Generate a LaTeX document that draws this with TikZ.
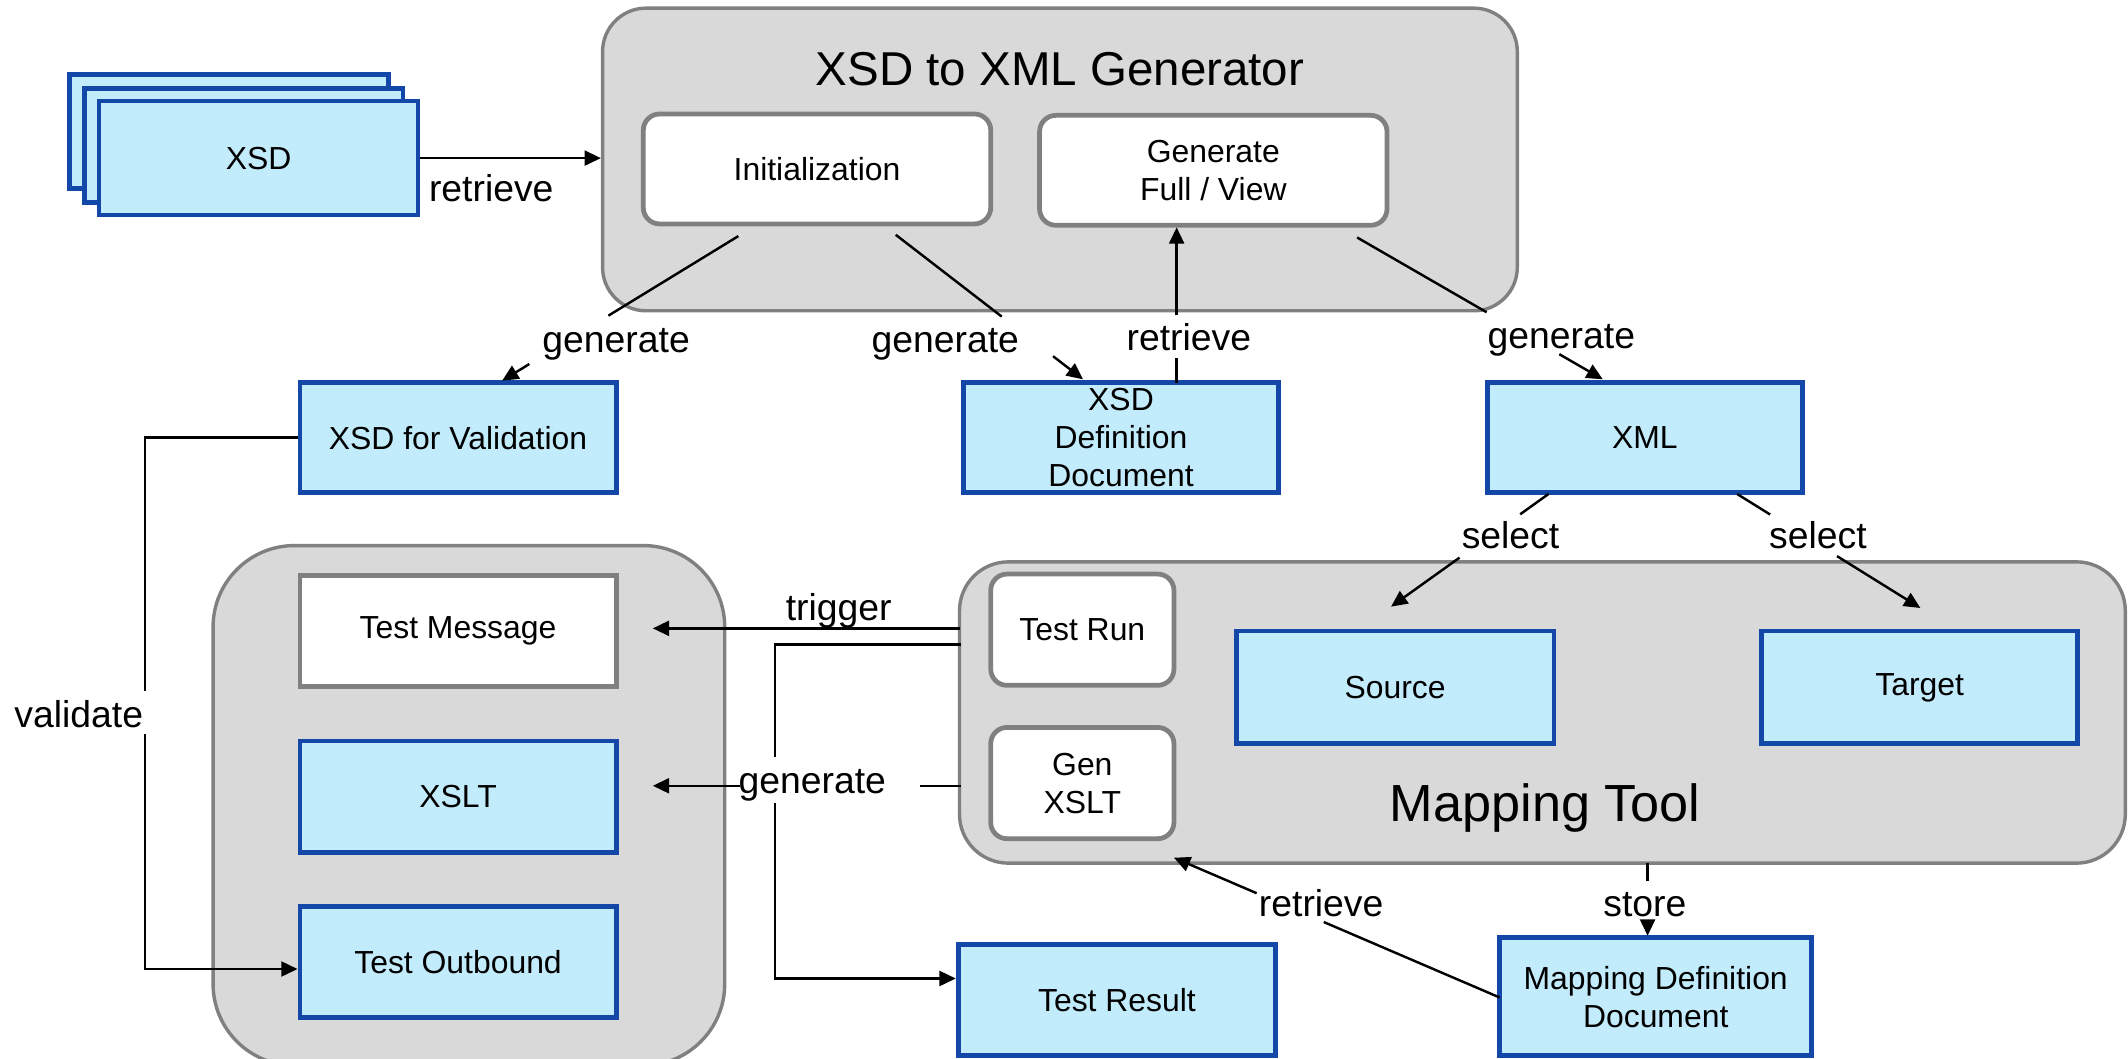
\documentclass[tikz,border=0pt]{standalone}
\usepackage{fontspec}
\setmainfont{Liberation Sans}
\usetikzlibrary{arrows.meta,calc}
\definecolor{bfill}{RGB}{194,235,251}
\definecolor{bline}{RGB}{20,72,168}
\definecolor{gfill}{RGB}{217,217,217}
\definecolor{gline}{RGB}{128,128,128}
\begin{document}
\begin{tikzpicture}[x=1pt,y=-1pt,
  font=\fontsize{23.5}{28}\selectfont,
  bluebox/.style={draw=bline,fill=bfill,line width=3.5pt,align=center,inner sep=0pt},
  msgbox/.style={draw=gline,fill=white,line width=3.5pt,align=center,inner sep=0pt},
  whitebox/.style={draw=gline,fill=white,line width=3.5pt,rounded corners=12pt,align=center,inner sep=0pt},
  container/.style={draw=gline,fill=gfill,line width=2.5pt,inner sep=0pt},
  conn/.style={line width=1.8pt,draw=black},
  arr/.style={conn,-{Triangle[length=12pt,width=11pt]}},
  lbl/.style={font=\fontsize{27.5}{32}\selectfont,inner sep=0pt,anchor=base},
  ttl/.style={inner sep=0pt,anchor=base},
]
\useasboundingbox (0,0) rectangle (1568,780.3);
\clip (0,0) rectangle (1568,780.3);

% XSD stack
\node[bluebox,minimum width=235,minimum height=84] (xsdc) at (168.5,97) {};
\node[bluebox,minimum width=235,minimum height=84] (xsdb) at (179.5,107) {};
\node[bluebox,minimum width=235,minimum height=84] (xsd) at (190.5,116.5) {XSD};

% XSD to XML generator
\node[container,rounded corners=32pt,minimum width=674,minimum height=223] (gen) at (781,117.5) {};
\node[ttl,font=\fontsize{35}{42}\selectfont] (gentitle) at (781,62.7) {XSD to XML Generator};
\node[whitebox,minimum width=256,minimum height=81] (init) at (602,124.5) {Initialization};
\node[whitebox,minimum width=256,minimum height=81] (genfv) at (894,125.5) {Generate\\Full / View};

% generated artefacts
\node[bluebox,minimum width=233,minimum height=81] (xsdval) at (337.5,322.5) {XSD for Validation};
\node[bluebox,minimum width=232,minimum height=81] (xsddef) at (826,322.5) {XSD\\Definition\\Document};
\node[bluebox,minimum width=232,minimum height=81] (xml) at (1212,322.5) {XML};

% test container
\node[container,rounded corners=60pt,minimum width=377,minimum height=383] (test) at (345.5,593.5) {};
\node[msgbox,minimum width=233,minimum height=82] (testmsg) at (337.5,465) {Test Message};
\node[bluebox,minimum width=233,minimum height=82] (xslt) at (337.5,587) {XSLT};
\node[bluebox,minimum width=233,minimum height=82] (testout) at (337.5,709) {Test Outbound};

% mapping tool
\node[container,rounded corners=36pt,minimum width=859,minimum height=222] (map) at (1136.5,525) {};
\node[whitebox,minimum width=135,minimum height=82] (testrun) at (797.5,464) {Test Run};
\node[whitebox,minimum width=135,minimum height=82] (genxslt) at (797.5,577) {Gen\\XSLT};
\node[bluebox,minimum width=234,minimum height=83] (source) at (1028,506.5) {Source};
\node[bluebox,minimum width=233,minimum height=83] (target) at (1414.5,506.5) {Target};
\node[ttl,font=\fontsize{38.5}{46}\selectfont] (maptitle) at (1138.5,605.6) {Mapping Tool};

\node[bluebox,minimum width=230,minimum height=87] (mapdef) at (1220,734.5) {Mapping Definition\\Document};
\node[bluebox,minimum width=234,minimum height=82] (testres) at (823,737) {Test Result};

% retrieve XSD
\draw[arr] (xsd.east) -- (xsd.east -| gen.west);
\node[lbl] (lretr1) at (362,148.6) {retrieve};

% generate XSD for validation
\coordinate (g1s) at (544,174);
\coordinate (g1t) at (370,280.5);
\draw[conn] (g1s) -- ($(g1s)!0.55!(g1t)$);
\draw[arr] ($(g1s)!0.885!(g1t)$) -- (g1t);
\node[lbl] (lgen1) at (454,260) {generate};

% generate XSD definition document
\coordinate (g2s) at (660,173);
\coordinate (g2t) at (798,279.5);
\draw[conn] (g2s) -- ($(g2s)!0.566!(g2t)$);
\draw[arr] ($(g2s)!0.84!(g2t)$) -- (g2t);
\node[lbl] (lgen2) at (696.5,260) {generate};

% retrieve definition into Generate Full / View
\coordinate (r2s) at (867,282);
\coordinate (r2t) at (867,167.5);
\draw[conn] (r2s) -- ($(r2s)!0.157!(r2t)$);
\draw[arr] ($(r2s)!0.435!(r2t)$) -- (r2t);
\node[lbl] (lretr2) at (876,258) {retrieve};

% generate XML
\coordinate (g3s) at (1000,175);
\coordinate (g3t) at (1181,279.5);
\draw[conn] (g3s) -- ($(g3s)!0.527!(g3t)$);
\draw[arr] ($(g3s)!0.823!(g3t)$) -- (g3t);
\node[lbl] (lgen3) at (1150.5,256.6) {generate};

% select source / target
\coordinate (s1s) at (1141,364);
\coordinate (s1t) at (1025,447);
\draw[conn] (s1s) -- ($(s1s)!0.18!(s1t)$);
\draw[arr] ($(s1s)!0.565!(s1t)$) -- (s1t);
\node[lbl] (lsel1) at (1113,404) {select};

\coordinate (s2s) at (1280,364);
\coordinate (s2t) at (1415,448);
\draw[conn] (s2s) -- ($(s2s)!0.18!(s2t)$);
\draw[arr] ($(s2s)!0.545!(s2t)$) -- (s2t);
\node[lbl] (lsel2) at (1339.5,404) {select};

% trigger
\coordinate (trs) at (707,463);
\coordinate (trt) at (481,463);
\draw[arr] (trs) -- (trt);
\node[lbl] (ltrig) at (618,457) {trigger};

% test result path
\coordinate (rs) at (708,475);
\coordinate (rc1) at (571,475);
\coordinate (rg1) at (571,558);
\coordinate (rg2) at (571,592);
\coordinate (rc2) at (571,721);
\draw[conn] (rs) -- (rc1) -- (rg1);
\draw[arr] (rg2) -- (rc2) -- (rc2 -| testres.west);

% generate XSLT
\coordinate (gxs) at (708,579);
\coordinate (gxg1) at (678,579);
\coordinate (gxg2) at (545,579);
\coordinate (gxt) at (481,579);
\draw[conn] (gxs) -- (gxg1);
\draw[arr] (gxg2) -- (gxt);
\node[lbl] (lgen4) at (598.5,585) {generate};

% validate
\coordinate (v1) at (107,322.5);
\coordinate (vg1) at (107,509);
\coordinate (vg2) at (107,541);
\coordinate (v2) at (107,714);
\draw[conn] (xsdval.west) -- (v1) -- (vg1);
\draw[arr] (vg2) -- (v2) -- (v2 -| testout.west);
\node[lbl] (lval) at (58,536) {validate};

% store
\coordinate (sts) at (1214,636);
\coordinate (stt) at (1214,689.5);
\draw[conn] (sts) -- (1214,649);
\draw[arr] (1214,680) -- (stt);
\node[lbl] (lstore) at (1212,675) {store};

% retrieve mapping definition
\coordinate (r3s) at (1105,735);
\coordinate (r3t) at (865,632);
\draw[conn] (r3s) -- ($(r3s)!0.54!(r3t)$);
\draw[arr] ($(r3s)!0.746!(r3t)$) -- (r3t);
\node[lbl] (lretr3) at (973.5,675) {retrieve};

\end{tikzpicture}
\end{document}
